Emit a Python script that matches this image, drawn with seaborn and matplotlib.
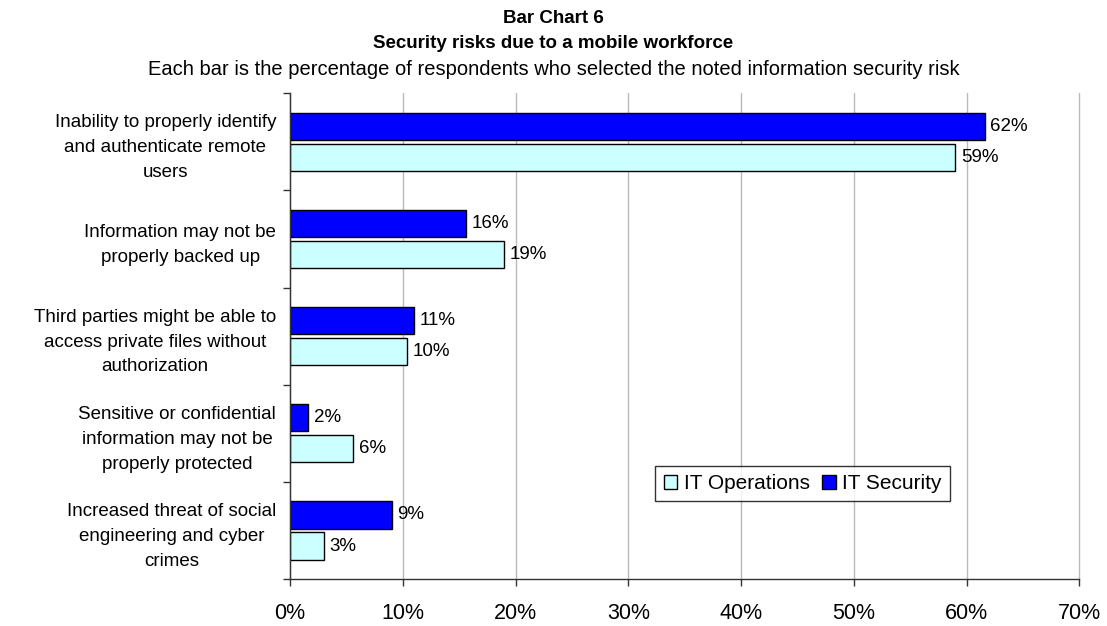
import matplotlib
matplotlib.use("Agg")
import matplotlib.pyplot as plt
import seaborn as sns
import pandas as pd
from matplotlib.patches import Patch
from matplotlib.ticker import FixedLocator

categories = [
    "Inability to properly identify\nand authenticate remote\nusers",
    "Information may not be\nproperly backed up",
    "Third parties might be able to\naccess private files without\nauthorization",
    "Sensitive or confidential\ninformation may not be\nproperly protected",
    "Increased threat of social\nengineering and cyber\ncrimes",
]
it_security = [61.6, 15.6, 11.0, 1.6, 9.0]
it_operations = [59.0, 19.0, 10.4, 5.6, 3.0]
series_names = ["IT Security", "IT Operations"]
colors = {"IT Security": "#0000FF", "IT Operations": "#CCFFFF"}
xticks = [0, 10, 20, 30, 40, 50, 60, 70]

df = pd.DataFrame({
    "category": categories * 2,
    "series": ["IT Security"] * 5 + ["IT Operations"] * 5,
    "value": it_security + it_operations,
})

sns.set_theme(style="white")
plt.rcParams["font.family"] = ["Liberation Sans", "DejaVu Sans"]
plt.rcParams["text.color"] = "black"
plt.rcParams["xtick.color"] = "black"
plt.rcParams["ytick.color"] = "black"
plt.rcParams["axes.labelcolor"] = "black"

fig = plt.figure(figsize=(11.07, 6.26), dpi=100)
ax = fig.add_axes([0.262, 0.075, 0.713, 0.776])

sns.barplot(data=df, y="category", x="value", hue="series", hue_order=series_names,
            palette=colors, saturation=1, orient="h", width=0.64, edgecolor="black",
            linewidth=1.0, legend=False, ax=ax)

# shrink bars slightly to leave a small gap between the pair
for p in ax.patches:
    h = p.get_height()
    y = p.get_y()
    p.set_y(y + 0.02)
    p.set_height(h - 0.04)

for cont, vals in zip(ax.containers, [it_security, it_operations]):
    ax.bar_label(cont, labels=[f"{round(v)}%" for v in vals], padding=4, fontsize=13.5)

ax.set_xlim(0, 70)
ax.set_ylim(4.5, -0.5)
ax.set_xticks(xticks)
ax.set_xticklabels([f"{t}%" for t in xticks], fontsize=15.5)
ax.set_xlabel("")
ax.set_ylabel("")
ax.tick_params(axis="y", which="major", length=0, labelsize=13.5, pad=10)
ax.yaxis.set_minor_locator(FixedLocator([-0.5, 0.5, 1.5, 2.5, 3.5, 4.5]))
ax.tick_params(axis="y", which="minor", length=5, width=1, color="#333333", direction="out", left=True)
ax.tick_params(axis="x", which="major", length=5, width=1, color="#333333", direction="out",
               bottom=True, pad=12)
for lab in ax.get_yticklabels():
    lab.set_multialignment("center")
    lab.set_linespacing(1.6)

ax.grid(axis="x", color="#BBBBBB", linewidth=1)
for gl in ax.get_xgridlines():
    gl.set_clip_on(False)
ax.set_axisbelow(True)
for s in ["top", "right"]:
    ax.spines[s].set_visible(False)
for s in ["left", "bottom"]:
    ax.spines[s].set_color("#333333")
    ax.spines[s].set_linewidth(1)

handles = [Patch(facecolor=colors["IT Operations"], edgecolor="black", label="IT Operations"),
           Patch(facecolor=colors["IT Security"], edgecolor="black", label="IT Security")]
leg = ax.legend(handles=handles, loc="lower left", bbox_to_anchor=(0.463, 0.16), ncol=2,
                fontsize=15, frameon=True, fancybox=False, handlelength=0.65, handleheight=0.65,
                handletextpad=0.3, columnspacing=0.6, borderpad=0.4, borderaxespad=0)
leg.get_frame().set_edgecolor("black")
leg.get_frame().set_linewidth(1)

fig.text(0.5, 0.970, "Bar Chart 6", ha="center", va="center", fontsize=13.5, fontweight="bold")
fig.text(0.5, 0.930, "Security risks due to a mobile workforce", ha="center", va="center",
         fontsize=13.5, fontweight="bold")
fig.text(0.5, 0.889, "Each bar is the percentage of respondents who selected the noted information security risk",
         ha="center", va="center", fontsize=14.5)

fig.savefig("out.png", dpi=100)
